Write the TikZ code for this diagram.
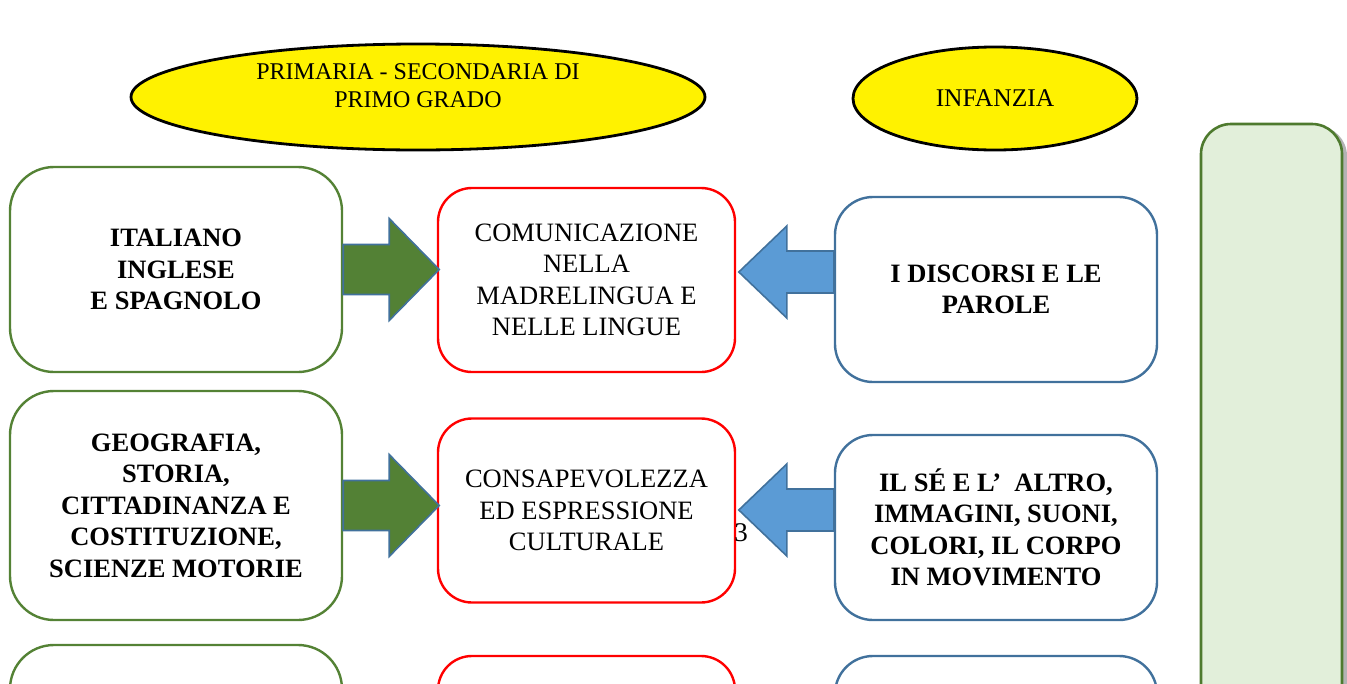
\documentclass[tikz,border=0pt]{standalone}
\usepackage{fontspec}
\setmainfont{Liberation Serif}
\usepackage{tikz}
\usetikzlibrary{calc, shapes, shadows}

\definecolor{boxgreen}{RGB}{84,130,53}
\definecolor{boxblue}{RGB}{65,113,156}
\definecolor{arrowgreen}{RGB}{83,129,53}
\definecolor{arrowblue}{RGB}{91,155,213}
\definecolor{panelfill}{RGB}{226,239,218}
\definecolor{panelline}{RGB}{78,122,46}

\tikzset{
	txt/.style={align=center, font=\fontsize{26.5}{31.5}\selectfont},
	gbox/.style={txt, draw=boxgreen, line width=2.4pt, rounded corners=44pt, minimum width=332pt, font=\fontsize{26.5}{31.5}\selectfont\bfseries},
	rbox/.style={txt, draw=red, line width=2.4pt, rounded corners=34pt, minimum width=297pt, minimum height=184pt},
	bbox/.style={txt, draw=boxblue, line width=2.4pt, rounded corners=38pt, minimum width=322pt, minimum height=185pt, font=\fontsize{26.5}{31.5}\selectfont\bfseries},
	oval/.style={ellipse, draw=black, line width=2.8pt, fill=yellow},
	garrow/.style={fill=arrowgreen, draw=boxblue, line width=1.6pt},
	barrow/.style={fill=arrowblue, draw=boxblue, line width=1.6pt}
}

% block arrows between the boxes
\newcommand{\greenarrow}[1]{\draw[garrow, shift={(#1.east)}] (0,-25) -- (46,-25) -- (46,-51) -- (96,0) -- (46,51) -- (46,25) -- (0,25) -- cycle;}
\newcommand{\bluearrow}[1]{\draw[barrow, shift={($(#1.west)+(0,-17.5)$)}] (0,-21) -- (-47,-21) -- (-47,-46) -- (-95,0) -- (-47,46) -- (-47,21) -- (0,21) -- cycle;}

\begin{document}
\begin{tikzpicture}[x=1pt, y=-1pt]
		\useasboundingbox (0,0) rectangle (1347,683);
		\clip (0,0) rectangle (1347,683);
		
		% headers
		\node[oval, minimum width=574pt, minimum height=106pt] (prim) at (418,97) {};
		\node[align=center, font=\fontsize{24}{28}\selectfont] (primtxt) at (418,86) {PRIMARIA - SECONDARIA DI\\PRIMO GRADO};
		\node[oval, minimum width=284pt, minimum height=103pt, font=\fontsize{25.5}{30}\selectfont] (inf) at (995,98.5) {INFANZIA};
		
		% side panel
		\draw[fill=panelfill, draw=panelline, line width=2.6pt, rounded corners=30pt,
		drop shadow={shadow xshift=5pt, shadow yshift=-2pt, opacity=.6}] (1201,124) rectangle (1342,760);
		
		% left column
		\node[gbox, minimum height=205pt] (ita) at (176,269.5) {ITALIANO\\INGLESE\\E SPAGNOLO};
		\node[gbox, minimum height=229pt] (geo) at (176,505.5) {GEOGRAFIA,\\STORIA,\\CITTADINANZA E\\COSTITUZIONE,\\SCIENZE MOTORIE};
		\node[gbox, minimum height=200pt] (gthree) at (176,745) {};
		
		% middle column
		\node[rbox] (com) at (586.5,280) {COMUNICAZIONE\\NELLA\\MADRELINGUA E\\NELLE LINGUE};
		\node[rbox] (cons) at (586.5,510.5) {CONSAPEVOLEZZA\\ED ESPRESSIONE\\CULTURALE};
		\node[rbox] (rthree) at (586.5,748) {};
		
		% right column
		\node[bbox] (disc) at (996,289.5) {I DISCORSI E LE\\PAROLE};
		\node[bbox] (se) at (996,527.5) {IL SÉ E L’\ \ ALTRO,\\IMMAGINI, SUONI,\\COLORI, IL CORPO\\IN MOVIMENTO};
		\node[bbox] (bthree) at (996,748.5) {};
		
		% arrows
		\greenarrow{ita}
		\greenarrow{geo}
		\bluearrow{disc}
		\bluearrow{se}
		
		\node[font=\fontsize{27}{30}\selectfont, inner sep=0pt] (pagenum) at (741,533) {3};
\end{tikzpicture}
\end{document}
